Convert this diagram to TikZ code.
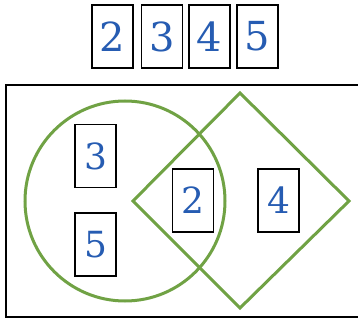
\documentclass[tikz,border=0pt]{standalone}
\usepackage{tikz}
\usepackage{fontspec}
\newfontfamily\cardfont{DejaVu Serif}
\usetikzlibrary{positioning}
\definecolor{setgreen}{RGB}{112,162,68}
\definecolor{digitblue}{RGB}{38,92,178}

\begin{document}
\begin{tikzpicture}[x=1pt,y=-1pt,
every node/.style={draw,line width=1.5pt,inner sep=0pt,minimum width=41pt,
minimum height=63pt,text=digitblue,font=\cardfont\fontsize{40}{40}\selectfont}]
\useasboundingbox (0,0) rectangle (358,323);
% cards above the box
\node (C2) at (112.5,36.5) {2};
\node (C3) at (162,36.5) {3};
\node (C4) at (209.5,36.5) {4};
\node (C5) at (257.5,36.5) {5};
% universal box and the two sets
\draw[line width=1.8pt] (6,85) rectangle (362,317);
\draw[setgreen,line width=3pt] (125,201) circle (100pt);
\draw[setgreen,line width=3pt] (240,93)--(349,201)--(240,308)--(133,201)--cycle;
% cards inside
\node[font=\cardfont\fontsize{36}{36}\selectfont] (V3) at (95.5,156) {3};
\node[font=\cardfont\fontsize{36}{36}\selectfont] (V5) at (95.5,244.5) {5};
\node[font=\cardfont\fontsize{36}{36}\selectfont] (V2) at (193,200.5) {2};
\node[font=\cardfont\fontsize{36}{36}\selectfont] (V4) at (278.5,200.5) {4};
\end{tikzpicture}
\end{document}
